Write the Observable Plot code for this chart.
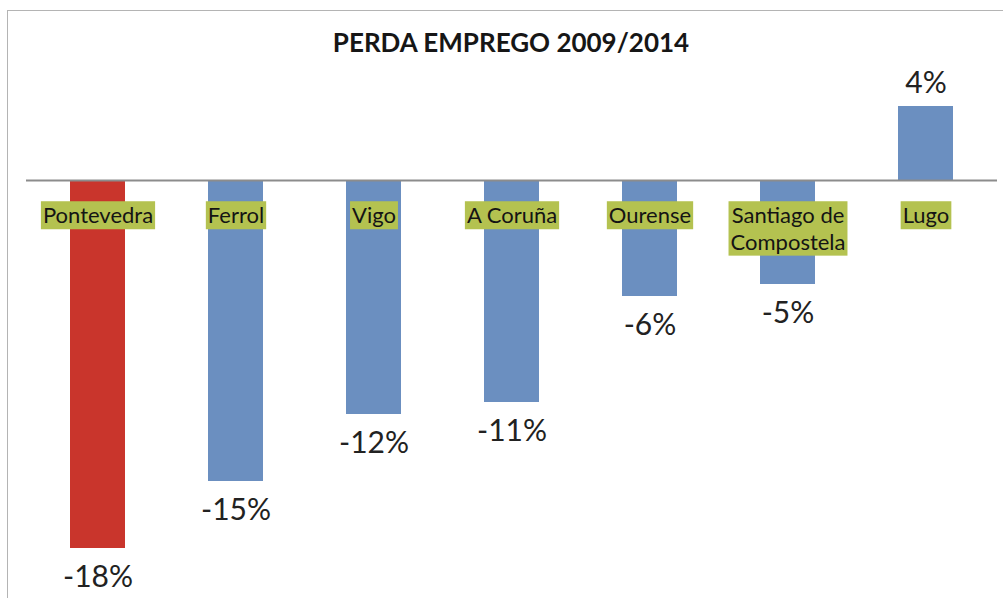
<!DOCTYPE html>
<html><head><meta charset="utf-8">
<script src="https://cdn.jsdelivr.net/npm/d3@7"></script>
<script src="https://cdn.jsdelivr.net/npm/@observablehq/plot@0.6"></script>
<style>
body{margin:0;background:#fff;width:1003px;height:598px;overflow:hidden;position:relative;font-family:Lato,sans-serif}
#frame{position:absolute;left:7px;top:10px;width:1100px;height:700px;border-left:1.5px solid #b4b4b4;border-top:1.5px solid #b4b4b4;}
#title{position:absolute;top:29px;left:0;width:1022px;text-align:center;font:bold 26px Lato,sans-serif;line-height:26px;color:#161616}
#chart{position:absolute;left:0;top:58px}
</style></head><body>
<div id="frame"></div>
<div id="title">PERDA EMPREGO 2009/2014</div>
<div id="chart"></div>
<script>
const cities = ["Pontevedra", "Ferrol", "Vigo", "A Coruña", "Ourense", "Santiago de\nCompostela", "Lugo"];
const changes = [-18.4, -15.05, -11.7, -11.1, -5.8, -5.2, 3.7];
const labels = ["-18%", "-15%", "-12%", "-11%", "-6%", "-5%", "4%"];
const highlight = "Pontevedra";

const data = cities.map((c, i) => ({city: c, value: changes[i], label: labels[i]}));

const plot = Plot.plot({
  width: 1003, height: 540,
  marginLeft: 26, marginRight: 6, marginTop: 0, marginBottom: 0,
  x: {domain: cities, paddingInner: 0.6, paddingOuter: 0.3, axis: null},
  y: {domain: [-20.9, 6.1], axis: null},
  style: {background: "transparent", fontFamily: "Lato, sans-serif"},
  marks: [
    Plot.barY(data.filter(d => d.city !== highlight), {x: "city", y: "value", fill: "#6b8fc0"}),
    Plot.barY(data.filter(d => d.city === highlight), {x: "city", y: "value", fill: "#c9352c"}),
    Plot.ruleY([0], {stroke: "#8c8c8c", strokeWidth: 2}),
    Plot.text(data.filter(d => d.value < 0), {x: "city", y: "value", text: "label", lineAnchor: "top", dy: 17, fontSize: 30, fill: "#222"}),
    Plot.text(data.filter(d => d.value >= 0), {x: "city", y: "value", text: "label", lineAnchor: "bottom", dy: -14, fontSize: 30, fill: "#222"}),
    Plot.text(data, {x: "city", y: () => 0, text: "city", lineAnchor: "top", dy: 24, fontSize: 22, lineHeight: 1.2, fill: "#141414"})
  ]
});
document.getElementById("chart").append(plot);

const groups = plot.querySelectorAll('g[aria-label="text"]');
const g = groups[groups.length - 1];
if (g) {
  g.querySelectorAll("text").forEach(t => {
    const b = t.getBBox();
    const r = document.createElementNS("http://www.w3.org/2000/svg", "rect");
    r.setAttribute("x", b.x - 2);
    r.setAttribute("y", b.y);
    r.setAttribute("width", b.width + 4);
    r.setAttribute("height", b.height + 1);
    r.setAttribute("fill", "#b4c250");
    if (t.getAttribute("transform")) r.setAttribute("transform", t.getAttribute("transform"));
    t.parentNode.insertBefore(r, t);
  });
}
</script>
</body></html>
